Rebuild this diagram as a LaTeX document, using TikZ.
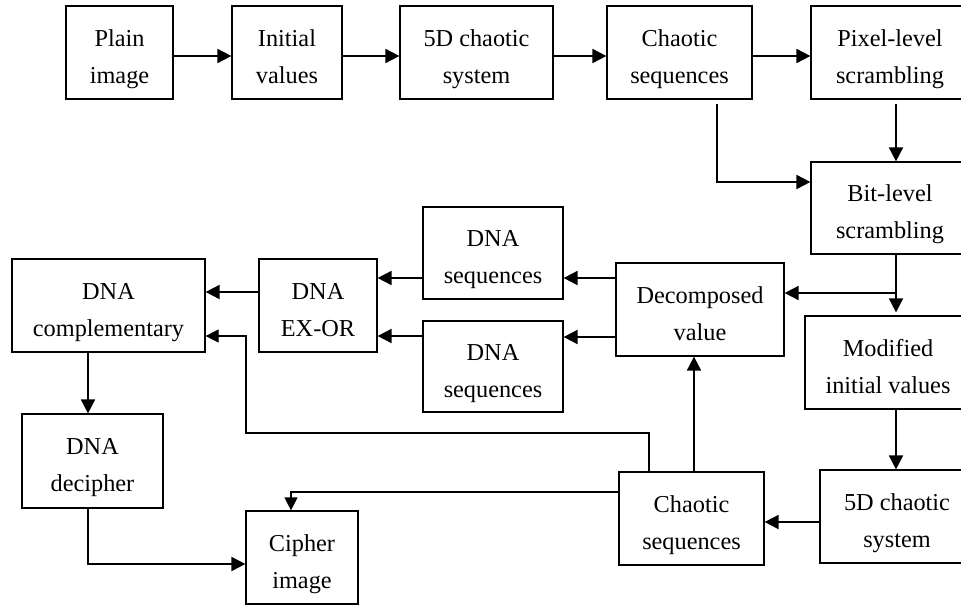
\documentclass[tikz,border=0pt]{standalone}
\usepackage{fontspec}
\setmainfont{Liberation Serif}
\usetikzlibrary{arrows.meta}
\begin{document}
\begin{tikzpicture}[x=1pt,y=-1pt,
  box/.style={draw, line width=1.2pt, align=center, inner sep=0pt,
    text height=61pt, text depth=0pt,
    font=\fontsize{24.3pt}{37pt}\selectfont},
  arr/.style={line width=1.8pt, -{Triangle[length=14pt,width=14pt]}},
  tline/.style={line width=1.2pt, -{Triangle[length=13pt,width=13pt]}}]
\useasboundingbox (0,0) rectangle (961,606);
\clip (0,0) rectangle (961,606);
% helper levels
\coordinate (h278) at (0,278);
\coordinate (h337) at (0,337);
\coordinate (h292) at (0,292);
\coordinate (h293) at (0,293);
\coordinate (h336) at (0,336);
\coordinate (h433) at (246,433);
\coordinate (h492) at (0,492);
\coordinate (h522) at (0,522);
\coordinate (h564) at (0,564);
% nodes
\node[box, minimum width=107pt, minimum height=93pt] (plain) at (119.5,52.5) {Plain\\image};
\node[box, minimum width=110pt, minimum height=93pt] (init) at (287,52.5) {Initial\\values};
\node[box, minimum width=153pt, minimum height=93pt] (sys1) at (476.5,52.5) {5D chaotic\\system};
\node[box, minimum width=145pt, minimum height=93pt] (seq1) at (679.5,52.5) {Chaotic\\sequences};
\node[box, minimum width=158pt, minimum height=93pt] (pix) at (890,52.5) {Pixel-level\\scrambling};
\node[box, minimum width=158pt, minimum height=92pt] (bit) at (890,208) {Bit-level\\scrambling};
\node[box, minimum width=168pt, minimum height=93pt] (dec) at (700,309.5) {Decomposed\\value};
\node[box, minimum width=140pt, minimum height=92pt] (dnaA) at (493,253) {DNA\\sequences};
\node[box, minimum width=140pt, minimum height=91pt] (dnaB) at (493,366.5) {DNA\\sequences};
\node[box, minimum width=118pt, minimum height=93pt] (xor) at (318,305.5) {DNA\\EX-OR};
\node[box, minimum width=193pt, minimum height=93pt] (comp) at (108.5,305.5) {DNA\\complementary};
\node[box, minimum width=166pt, minimum height=93pt] (mod) at (888,362.5) {Modified\\initial values};
\node[box, minimum width=154pt, minimum height=93pt] (sys2) at (897,516.5) {5D chaotic\\system};
\node[box, minimum width=145pt, minimum height=93pt] (seq2) at (691.5,518.5) {Chaotic\\sequences};
\node[box, minimum width=141pt, minimum height=94pt] (deci) at (92.5,461) {DNA\\decipher};
\node[box, minimum width=112pt, minimum height=93pt] (ciph) at (302,557.5) {Cipher\\image};
% connectors
\draw[arr] ([yshift=-3.5pt]plain.east) -- ([yshift=-3.5pt]init.west);
\draw[arr] ([yshift=-3.5pt]init.east) -- ([yshift=-3.5pt]sys1.west);
\draw[arr] ([yshift=-3.5pt]sys1.east) -- ([yshift=-3.5pt]seq1.west);
\draw[arr] ([yshift=-3.5pt]seq1.east) -- ([yshift=-3.5pt]pix.west);
\draw[arr] ([xshift=37.5pt,yshift=-4pt]seq1.south) |- ([yshift=26pt]bit.west);
\draw[arr] ([xshift=6pt,yshift=-4pt]pix.south) -- ([xshift=6pt]bit.north);
\draw[arr] ([xshift=6pt]bit.south) -- ([xshift=8pt,yshift=3pt]mod.north);
\draw[arr] ([xshift=6pt]bit.south |- h293) -- (dec.east |- h293);
\draw[arr] (dec.west |- h278) -- (dnaA.east |- h278);
\draw[arr] (dec.west |- h337) -- (dnaB.east |- h337);
\draw[arr] (dnaA.west |- h278) -- (xor.east |- h278);
\draw[arr] (dnaB.west |- h336) -- (xor.east |- h336);
\draw[arr] (xor.west |- h292) -- (comp.east |- h292);
\draw[tline] ([xshift=-42.5pt]seq2.north) |- (h433) |- (comp.east |- h336);
\draw[arr] ([xshift=2.5pt]seq2.north) -- ([xshift=-6pt]dec.south);
\draw[tline] (seq2.west |- h492) -| ([xshift=-11pt]ciph.north);
\draw[arr] (sys2.west |- h522) -- (seq2.east |- h522);
\draw[arr] ([xshift=8pt]mod.south) -- ([xshift=-1pt]sys2.north);
\draw[arr] ([xshift=-20.5pt]comp.south) -- ([xshift=-4.5pt]deci.north);
\draw[arr] ([xshift=-4.5pt]deci.south) |- (ciph.west |- h564);
\end{tikzpicture}
\end{document}
